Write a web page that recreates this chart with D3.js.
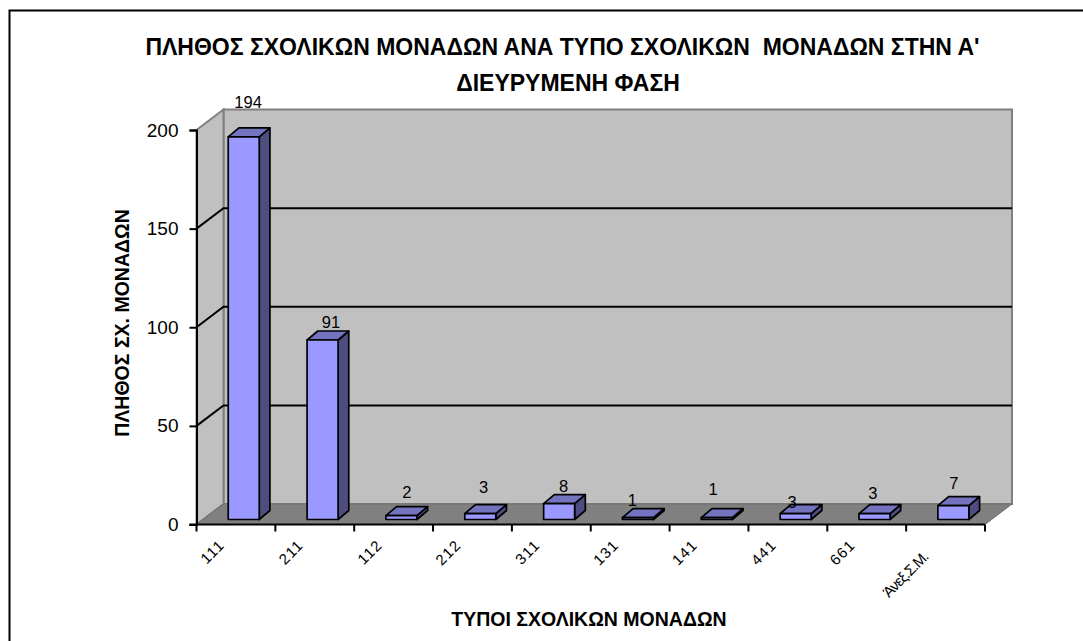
<!DOCTYPE html>
<html>
<head>
<meta charset="utf-8">
<script src="https://cdn.jsdelivr.net/npm/d3@7"></script>
<style>
  html, body { margin: 0; padding: 0; background: #fff; }
  svg { display: block; }
  text { font-family: "Liberation Sans", Arial, sans-serif; fill: #000; }
  .title { font-size: 23px; font-weight: bold; }
  .axisTitle { font-size: 19.5px; font-weight: bold; }
  .tick text { font-size: 19px; }
  .catLabel { font-size: 15px; letter-spacing: 1.2px; }
  .valueLabel { font-size: 16.5px; }
</style>
</head>
<body>
<div id="chart"></div>
<script>
// chart data
var categories = ["111", "211", "112", "212", "311", "131", "141", "441", "661", "Άνεξ.Σ.Μ."];
var values = [194, 91, 2, 3, 8, 1, 1, 3, 3, 7];
var yTicks = [0, 50, 100, 150, 200];
var titleLines = ["ΠΛΗΘΟΣ ΣΧΟΛΙΚΩΝ ΜΟΝΑΔΩΝ ΑΝΑ ΤΥΠΟ ΣΧΟΛΙΚΩΝ  ΜΟΝΑΔΩΝ ΣΤΗΝ Α'", "ΔΙΕΥΡΥΜΕΝΗ ΦΑΣΗ"];

// data labels were dragged by hand in the original, so each has its own nudge
var labelDx = [-1, 3, 0, -2, -1, -11, -9, -9, -7, -5];
var labelDy = [-26, -9, -15, -18, -9, -9, -20, -3, -12, -14];

var svgWidth = 1083;
var svgHeight = 641;

// front plane of the plot and the 3d depth of the box
var plot = { left: 196.5, right: 985, top: 130, bottom: 524.5 };
var depth = { x: 27, y: 20.5 };
var barDepth = { x: 10.7, y: 9 };
var barShift = { x: 7.8, y: 5 };
var barWidth = 31;

var svg = d3.select("#chart")
  .append("svg")
  .attr("width", svgWidth)
  .attr("height", svgHeight);

var xScale = d3.scaleBand()
  .domain(categories)
  .range([plot.left, plot.right]);

var yScale = d3.scaleLinear()
  .domain([0, 200])
  .range([plot.bottom, plot.top]);

// outer chart frame runs off the page on the right and bottom
svg.append("rect")
  .attr("x", 9.5)
  .attr("y", 10.5)
  .attr("width", svgWidth + 20)
  .attr("height", svgHeight + 20)
  .attr("fill", "#fff")
  .attr("stroke", "#000")
  .attr("stroke-width", 2);

function pts(list) {
  return list.map(function(p) { return p.join(","); }).join(" ");
}

var backLeft = plot.left + depth.x;
var backRight = plot.right + depth.x;
var backTop = plot.top - depth.y;
var backBottom = plot.bottom - depth.y;

// back wall
svg.append("rect")
  .attr("x", backLeft)
  .attr("y", backTop)
  .attr("width", backRight - backLeft)
  .attr("height", backBottom - backTop)
  .attr("fill", "#c0c0c0")
  .attr("stroke", "#808080")
  .attr("stroke-width", 2);

// side wall
svg.append("polygon")
  .attr("points", pts([[plot.left, plot.top], [backLeft, backTop], [backLeft, backBottom], [plot.left, plot.bottom]]))
  .attr("fill", "#c0c0c0")
  .attr("stroke", "#808080")
  .attr("stroke-width", 2);

// floor
svg.append("polygon")
  .attr("points", pts([[plot.left, plot.bottom], [backLeft, backBottom], [backRight, backBottom], [plot.right, plot.bottom]]))
  .attr("fill", "#808080")
  .attr("stroke", "#6e6e6e")
  .attr("stroke-width", 1);

// gridlines on both walls
var grid = svg.append("g").attr("fill", "none").attr("stroke", "#000").attr("stroke-width", 2);
yTicks.slice(1).forEach(function(t) {
  var y = yScale(t);
  if (t < 200) {
    grid.append("polyline")
      .attr("points", pts([[plot.left, y], [backLeft, y - depth.y], [backRight, y - depth.y]]));
  }
});

// bars
var bars = svg.selectAll("g.bar")
  .data(values)
  .enter()
  .append("g")
  .attr("class", "bar")
  .attr("stroke", "#000")
  .attr("stroke-width", 1.7)
  .attr("stroke-linejoin", "round");

function barLeft(i) { return xScale(categories[i]) + xScale.bandwidth() / 2 - barWidth / 2 + barShift.x; }
function barBase() { return plot.bottom - barShift.y; }
function barTop(d) { return yScale(d) - barShift.y; }

bars.append("polygon")
  .attr("fill", "#4d4d80")
  .attr("points", function(d, i) {
    var r = barLeft(i) + barWidth;
    return pts([[r, barTop(d)], [r + barDepth.x, barTop(d) - barDepth.y], [r + barDepth.x, barBase() - barDepth.y], [r, barBase()]]);
  });

bars.append("polygon")
  .attr("fill", "#7373bf")
  .attr("points", function(d, i) {
    var l = barLeft(i), r = l + barWidth;
    return pts([[l, barTop(d)], [l + barDepth.x, barTop(d) - barDepth.y], [r + barDepth.x, barTop(d) - barDepth.y], [r, barTop(d)]]);
  });

bars.append("rect")
  .attr("fill", "#9999ff")
  .attr("x", function(d, i) { return barLeft(i); })
  .attr("y", function(d) { return barTop(d); })
  .attr("width", barWidth)
  .attr("height", function(d) { return barBase() - barTop(d); });

// value labels
svg.selectAll("text.valueLabel")
  .data(values)
  .enter()
  .append("text")
  .attr("class", "valueLabel")
  .attr("text-anchor", "middle")
  .attr("dominant-baseline", "central")
  .attr("x", function(d, i) { return barLeft(i) + barWidth / 2 + barDepth.x / 2 + labelDx[i]; })
  .attr("y", function(d) { return barTop(d) - barDepth.y; })
  .attr("dy", function(d, i) { return labelDy[i]; })
  .text(function(d) { return d; });

// y axis
var yAxis = d3.axisLeft(yScale)
  .tickValues(yTicks)
  .tickSize(7)
  .tickPadding(11)
  .tickFormat(d3.format("d"));

var yGroup = svg.append("g")
  .attr("transform", "translate(" + plot.left + ",0)")
  .call(yAxis);
yGroup.selectAll("path, line").attr("stroke", "#000").attr("stroke-width", 2);
yGroup.selectAll("text").attr("font-family", null);

// x axis
var xTickScale = d3.scaleLinear()
  .domain([0, categories.length])
  .range([plot.left, plot.right]);

var xGroup = svg.append("g")
  .attr("stroke", "#000")
  .attr("stroke-width", 2);
xGroup.append("line")
  .attr("x1", plot.left - 7)
  .attr("x2", plot.right)
  .attr("y1", plot.bottom)
  .attr("y2", plot.bottom);
xGroup.selectAll("line.xtick")
  .data(d3.range(categories.length + 1))
  .enter()
  .append("line")
  .attr("class", "xtick")
  .attr("x1", function(d) { return xTickScale(d); })
  .attr("x2", function(d) { return xTickScale(d); })
  .attr("y1", plot.bottom)
  .attr("y2", plot.bottom + 7);

// category labels, the long one sits a bit lower and is squeezed
svg.selectAll("text.catLabel")
  .data(categories)
  .enter()
  .append("text")
  .attr("class", "catLabel")
  .attr("text-anchor", "end")
  .style("letter-spacing", function(d) { return d.length > 3 ? "-0.9px" : null; })
  .attr("transform", function(d) {
    var long = d.length > 3;
    return "translate(" + (xScale(d) + (long ? 23 : 29)) + "," + (long ? 558 : 546) + ") rotate(-45)";
  })
  .text(function(d) { return d; });

// titles
svg.selectAll("text.title")
  .data(titleLines)
  .enter()
  .append("text")
  .attr("class", "title")
  .attr("text-anchor", "middle")
  .attr("xml:space", "preserve")
  .attr("x", function(d, i) { return i ? 568 : 562.5; })
  .attr("y", function(d, i) { return 55 + i * 36; })
  .text(function(d) { return d; });

svg.append("text")
  .attr("class", "axisTitle")
  .attr("text-anchor", "middle")
  .attr("transform", "translate(129,323) rotate(-90)")
  .text("ΠΛΗΘΟΣ ΣΧ. ΜΟΝΑΔΩΝ");

svg.append("text")
  .attr("class", "axisTitle")
  .attr("text-anchor", "middle")
  .attr("x", 589)
  .attr("y", 626)
  .text("ΤΥΠΟΙ ΣΧΟΛΙΚΩΝ ΜΟΝΑΔΩΝ");
</script>
</body>
</html>
